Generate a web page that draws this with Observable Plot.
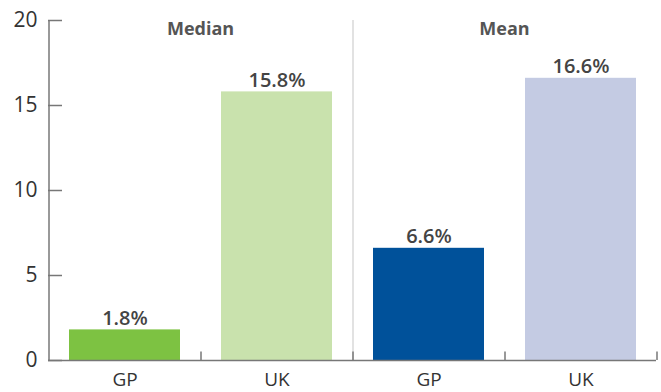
<!DOCTYPE html>
<html><head><meta charset="utf-8">
<script src="https://cdn.jsdelivr.net/npm/d3@7"></script>
<script src="https://cdn.jsdelivr.net/npm/@observablehq/plot@0.6"></script>
<style>body{margin:0;background:#fff}</style>
</head><body><div id="chart"></div>
<script>
const groups = ["Median", "Mean"];
const categories = ["GP", "UK"];
const medianValues = [1.8, 15.8];
const meanValues = [6.6, 16.6];
const medianColors = ["#7dc242", "#c9e2ad"];
const meanColors = ["#00519a", "#c4cbe3"];
const yTicks = [0, 5, 10, 15, 20];

const data = [];
categories.forEach((c, i) => data.push({group: "Median", cat: c, value: medianValues[i], color: medianColors[i]}));
categories.forEach((c, i) => data.push({group: "Mean", cat: c, value: meanValues[i], color: meanColors[i]}));

const W = 661, H = 392, ML = 48, MR = 5, MT = 20, MB = 32;
const half = (W - ML - MR) / 4 / 2;
const font = "'Open Sans', sans-serif";

const chart = Plot.plot({
  width: W, height: H,
  marginLeft: ML, marginRight: MR, marginTop: MT, marginBottom: MB,
  style: {fontFamily: font, background: "#fff"},
  fx: {domain: groups, padding: 0, axis: null},
  x: {domain: categories, paddingInner: 0.27, paddingOuter: 0.135},
  y: {domain: [0, 20]},
  marks: [
    Plot.ruleX(["Mean"], {fx: d => d, x: () => "GP", dx: -half, y1: 0, y2: 20, stroke: "#d9d9d9", strokeWidth: 1.5}),
    Plot.barY(data, {fx: "group", x: "cat", y: "value", fill: "color"}),
    Plot.ruleY([0], {stroke: "#777", strokeWidth: 1.5}),
    Plot.ruleX(data, {fx: "group", x: "cat", dx: half, y1: 0, y2: 0.5, stroke: "#777", strokeWidth: 1.5}),
    Plot.ruleX(["Median"], {fx: d => d, x: () => "GP", dx: -half, y1: 0, y2: 20, stroke: "#777", strokeWidth: 1.5}),
    Plot.axisY({ticks: yTicks, tickSize: -14, tickFormat: () => "", stroke: "#777", strokeWidth: 1.5, label: null}),
    Plot.axisY({ticks: yTicks, tickSize: 0, tickPadding: 11, fontSize: 21, fill: "#333", label: null}),
    Plot.axisX({tickSize: 0, tickPadding: 12, fontSize: 19, fill: "#333", label: null}),
    Plot.text(groups, {fx: d => d, text: d => d, frameAnchor: "top", dy: 2, fontSize: 18, fontWeight: 700, fill: "#555"}),
    Plot.text(data, {fx: "group", x: "cat", y: "value", text: d => d.value.toFixed(1) + "%", lineAnchor: "bottom", dy: -5, fontSize: 20, fontWeight: 600, fill: "#444"})
  ]
});
document.getElementById("chart").append(chart);
</script>
</body></html>
